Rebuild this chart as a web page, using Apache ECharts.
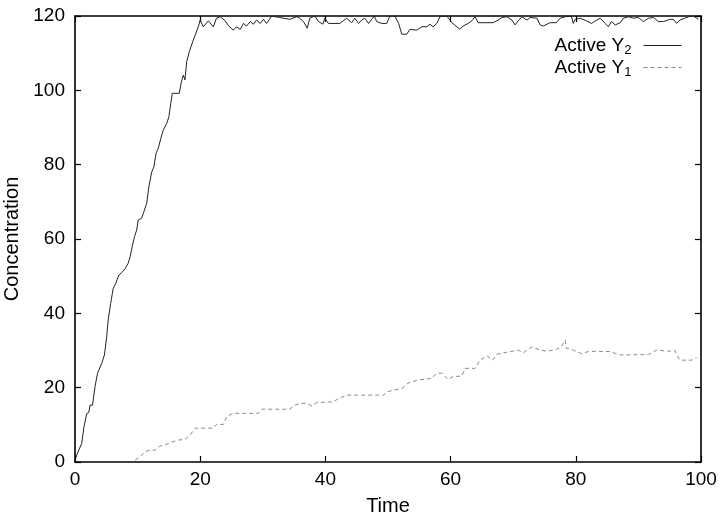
<!DOCTYPE html>
<html>
<head>
<meta charset="utf-8">
<script src="https://cdn.jsdelivr.net/npm/echarts@6/dist/echarts.min.js"></script>
<style>
html,body{margin:0;padding:0;background:#fff;}
#chart{width:721px;height:513px;}
</style>
</head>
<body>
<div id="chart"></div>
<script>
// Active Y2 (solid)
const y2Time = [0,0.37,1.07,1.44,1.87,2.2,2.4,2.8,3.2,3.6,4.26,4.7,5.06,5.3,5.7,6.1,6.5,7,7.5,8,8.5,8.8,9.2,9.5,9.85,10.1,10.65,11,11.45,11.8,12.25,12.6,12.94,13.3,13.7,14.1,14.65,15,15.3,15.55,16.66,17,17.3,17.57,17.84,18.26,18.8,19.3,19.7,20,20.5,21.3,22.1,22.6,23.2,24.0,24.5,25.3,25.8,26.4,26.9,27.4,28.0,28.5,29.0,29.6,30.1,30.6,31.2,31.4,32.7,34.3,35.4,35.9,36.5,37.1,37.5,38.3,38.9,39.6,39.9,40.5,42.3,43.4,44.2,44.7,45.3,45.8,46.3,46.9,47.4,47.8,48.2,49.0,49.8,50.3,51.1,51.7,52.2,53.0,53.5,54.6,55.4,56.2,56.7,57.2,57.8,58.3,59.4,60.2,61.0,61.5,62.0,62.8,63.4,63.9,64.4,66.8,67.6,68.2,69.0,69.8,70.3,70.8,71.4,72.2,72.7,73.8,74.3,74.8,75.9,76.9,77.5,78.3,79.3,79.6,79.9,80.7,81.7,82.5,83.1,83.9,84.7,85.2,85.7,86.3,87.1,87.6,88.4,89.2,90.0,90.8,91.6,92.4,93.2,94.0,95.0,95.6,96.1,96.6,97.4,98.0,98.8,99.6];
const y2Value = [0.5,2.3,5,9.5,13,13.3,15.3,15.3,20.3,23.9,26.5,28.8,33.7,38.2,42.7,46.7,48,50.3,51,52,53.5,55.2,58.4,60.6,62.4,65.1,65.6,67.3,69.6,74,78,79.4,83,84.4,87,89.3,91.1,92.9,96.5,99.2,99.2,102.3,104.1,102.8,107.7,110.4,113.1,115.3,117.1,118.9,117.1,118.7,117.1,119.4,119.8,118.7,117.4,116.2,117.1,116.4,118.0,117.3,118.5,117.8,118.9,118.0,119.1,118.0,119.4,120,119.6,119.1,119.8,119.4,118.5,116.7,119.4,120,118.5,117.8,119.4,118.0,118.0,119.4,118.2,119.4,118.0,118.9,119.4,118.0,119.1,120,118.5,118.0,118.0,120,120,118.0,115.1,115.1,116.4,116.2,117.1,117.1,117.8,117.1,118.0,119.8,120,118.2,117.1,116.4,117.3,118.0,118.7,119.8,118.2,118.2,118.9,119.6,119.8,118.9,117.6,118.7,119.8,118.9,119.6,119.4,117.6,117.3,118.2,118.2,119.4,119.8,120,118.0,119.1,119.4,118.7,118.0,118.7,119.4,118.0,117.1,118.5,117.6,118.2,119.4,119.8,119.4,119.6,118.5,119.4,119.6,118.5,118.5,119.1,119.1,118.0,118.9,119.4,119.8,120,119.1];
// Active Y1 (dashed)
const y1Time = [9.6,10.4,11.2,12.0,12.8,13.6,14.4,15.2,16.5,17.6,18.4,19.2,22.1,22.6,23.7,24.2,25.3,29.3,29.8,34.3,34.9,35.9,37.0,37.8,38.6,41.3,42.1,43.4,49.3,49.8,52.2,53.2,54.8,57.0,57.8,58.6,59.6,60.4,61.8,62.3,63.9,64.7,65.8,66.7,67.4,69.5,70.8,71.6,73.0,74.3,75.4,76.9,77.7,78.3,78.5,79.6,80.9,82.0,83.3,85.5,87.1,91.6,92.9,95.0,95.8,96.6,98.5,99.3];
const y1Value = [0.5,1.4,2.8,3.2,3.2,4.3,4.6,5.2,5.9,6.1,7.3,9.1,9.1,10.1,10.1,12.2,13.1,13.1,14.2,14.2,15.1,15.8,15.8,15.1,16.0,16.2,17.1,18.0,18.0,18.9,19.8,21.2,22.1,22.5,23.9,23.9,22.2,23.0,23.1,25.2,25.2,27.4,28.6,27.4,29.0,29.7,30.1,29.4,31.0,30.1,29.8,30.3,31.0,32.8,30.6,30.1,29.2,29.7,29.8,29.7,28.8,28.9,30.1,29.8,30.1,27.4,27.4,28.1];
const xTicks = [0,20,40,60,80,100];
const yTicks = [0,20,40,60,80,100,120];

const pairs = (xs, ys) => xs.map((x, i) => [x, ys[i]]);
const font = 'Liberation Sans, Arial, Helvetica, sans-serif';
const chart = echarts.init(document.getElementById('chart'));
const tickStyle = {show: true, inside: true, length: 6, lineStyle: {color: '#000', width: 1.2}};
chart.setOption({
  animation: false,
  backgroundColor: '#fff',
  grid: {left: 75, right: 20, top: 16, bottom: 51, show: false, containLabel: false, outerBoundsMode: 'none'},
  legend: {
    orient: 'vertical', right: 34, top: 31, align: 'right', itemWidth: 38, itemHeight: 10, itemGap: 1,
    data: ['Active Y2', 'Active Y1'],
    itemStyle: {opacity: 0},
    lineStyle: {width: 1},
    formatter: n => 'Active Y{sub|' + n.slice(-1) + '}',
    textStyle: {fontFamily: font, fontSize: 19, color: '#000', padding: [0, 7, 0, 0],
      rich: {sub: {fontFamily: font, fontSize: 13, color: '#000', padding: [10, 0, 0, 0]}}}
  },
  xAxis: [{
    type: 'value', min: xTicks[0], max: xTicks[xTicks.length-1], interval: 20,
    name: 'Time', nameLocation: 'middle', nameGap: 34,
    nameTextStyle: {fontFamily: font, fontSize: 20, color: '#000'},
    axisLine: {show: true, onZero: false, lineStyle: {color: '#000', width: 1.6}},
    axisTick: tickStyle, splitLine: {show: false},
    axisLabel: {fontFamily: font, fontSize: 19, color: '#000', margin: 8}
  }, {
    type: 'value', position: 'top', min: 0, max: 100, interval: 20,
    axisLine: {show: true, onZero: false, lineStyle: {color: '#000', width: 1.6}},
    axisTick: tickStyle, axisLabel: {show: false}, splitLine: {show: false}
  }],
  yAxis: [{
    type: 'value', min: yTicks[0], max: yTicks[yTicks.length-1], interval: 20,
    name: 'Concentration', nameLocation: 'middle', nameGap: 47, nameRotate: 90,
    nameTextStyle: {fontFamily: font, fontSize: 20, color: '#000'},
    axisLine: {show: true, onZero: false, lineStyle: {color: '#000', width: 1.6}},
    axisTick: tickStyle, splitLine: {show: false},
    axisLabel: {fontFamily: font, fontSize: 19, color: '#000', margin: 10}
  }, {
    type: 'value', position: 'right', min: 0, max: 120, interval: 20,
    axisLine: {show: true, onZero: false, lineStyle: {color: '#000', width: 1.6}},
    axisTick: tickStyle, axisLabel: {show: false}, splitLine: {show: false}
  }],
  series: [{
    name: 'Active Y2', type: 'line', data: pairs(y2Time, y2Value),
    showSymbol: false, symbol: 'none', clip: true,
    lineStyle: {color: '#222', width: 1}, itemStyle: {color: '#222'}
  }, {
    name: 'Active Y1', type: 'line', data: pairs(y1Time, y1Value),
    showSymbol: false, symbol: 'none', clip: true,
    lineStyle: {color: '#888', width: 1, type: [4, 3]}, itemStyle: {color: '#888'}
  }]
});
</script>
</body>
</html>
